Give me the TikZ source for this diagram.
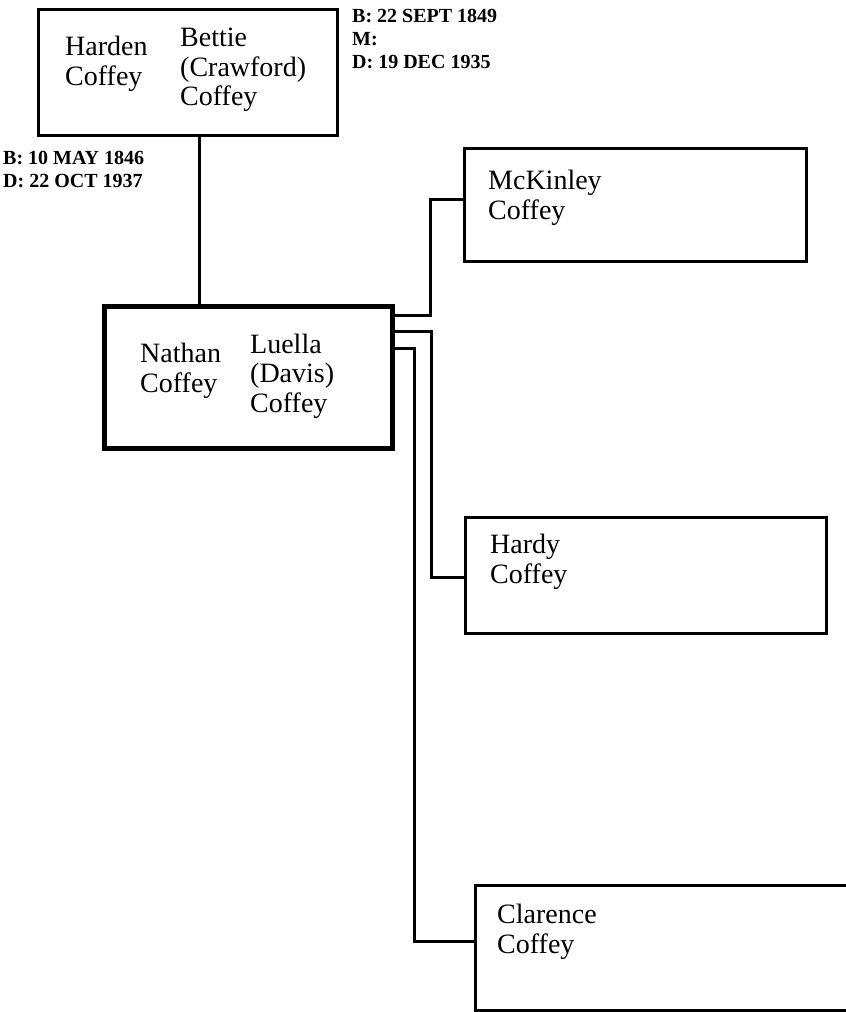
\documentclass[tikz,border=0pt]{standalone}
\usepackage{fontspec}
\setmainfont{Liberation Serif}
\usetikzlibrary{calc}

\begin{document}
\begin{tikzpicture}[x=1pt,y=-1pt,
    box/.style={draw,rectangle,line width=3pt,inner sep=0pt},
    who/.style={align=left,anchor=west,inner sep=0pt,font=\fontsize{28}{29.5}\selectfont},
    dates/.style={align=left,anchor=west,inner sep=0pt,font=\bfseries\fontsize{20}{23}\selectfont}]
    \useasboundingbox (0,0) rectangle (846,1012);
    \clip (0,0) rectangle (846,1012);
    % parents
    \node[box,minimum width=299pt,minimum height=126pt] (P) at (187.5,72) {};
    \node[who] (P1) at (65,64) {Harden\\Coffey};
    \node[who] (P2) at (180,70) {Bettie\\(Crawford)\\Coffey};
    \node[dates] (Pd) at (352,39) {B: 22 SEPT 1849\\M:\\D: 19 DEC 1935};
    \node[dates] (Hd) at (3,169) {B: 10 MAY 1846\\D: 22 OCT 1937};
    % couple
    \node[box,line width=5pt,minimum width=288pt,minimum height=142pt] (M) at (248,377) {};
    \node[who] (M1) at (140,371) {Nathan\\Coffey};
    \node[who] (M2) at (250,376) {Luella\\(Davis)\\Coffey};
    % children
    \node[box,minimum width=342pt,minimum height=113pt] (C1) at (635,204.5) {};
    \node[who] (C1t) at (488,198) {McKinley\\Coffey};
    \node[box,minimum width=361pt,minimum height=116pt] (C2) at (645.5,575) {};
    \node[who] (C2t) at (490,562) {Hardy\\Coffey};
    \node[box,minimum width=425pt,minimum height=125pt] (C3) at (687.5,947.5) {};
    \node[who] (C3t) at (497,932) {Clarence\\Coffey};
    \begin{scope}[line width=3pt]
      \draw (P.south) ++(11.5,0) coordinate (pd) -- (pd |- M.north);
      \draw ([yshift=-12]M.north east) -- ++(36,0) |- ([yshift=5.5]C1.west);
      \draw ([yshift=-28]M.north east) -- ++(37,0) |- ([yshift=-2]C2.west);
      \draw ([yshift=-45]M.north east) -- ++(20,0) |- ([yshift=6.5]C3.west);
    \end{scope}
  \end{tikzpicture}
\end{document}
